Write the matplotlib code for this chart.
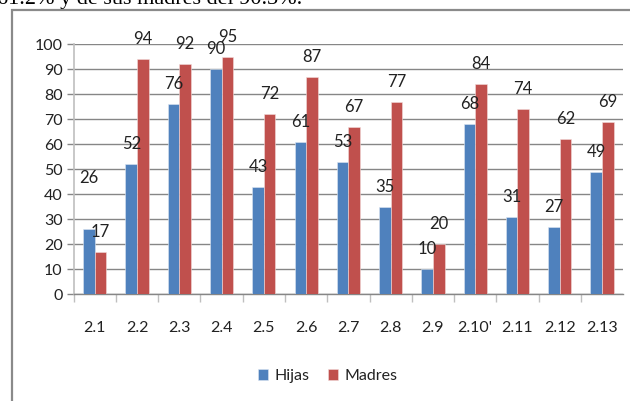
import numpy as np
import matplotlib
matplotlib.use("Agg")
import matplotlib.pyplot as plt
from matplotlib.patches import Rectangle

categorias = ["2.1", "2.2", "2.3", "2.4", "2.5", "2.6", "2.7", "2.8", "2.9", "2.10'", "2.11", "2.12", "2.13"]
hijas = [26, 52, 76, 90, 43, 61, 53, 35, 10, 68, 31, 27, 49]
madres = [17, 94, 92, 95, 72, 87, 67, 77, 20, 84, 74, 62, 69]
series = ["Hijas", "Madres"]

azul = "#4F81BD"
rojo = "#C0504D"
plt.rcParams["font.family"] = ["Lato", "DejaVu Sans"]

fig = plt.figure(figsize=(6.3, 4.01), dpi=100)
ax = fig.add_axes([0.117, 0.266, 0.872, 0.6235])

x = np.arange(len(categorias))
w = 0.275
b1 = ax.bar(x - w / 2, hijas, w, color=azul, edgecolor="#dce6f2", linewidth=0.4, label=series[0], zorder=3)
b2 = ax.bar(x + w / 2, madres, w, color=rojo, edgecolor="#f2dcdb", linewidth=0.4, label=series[1], zorder=3)

# etiquetas de datos
for i, (xi, v) in enumerate(zip(x, hijas)):
    off = 36.7 if i == 0 else 14.4
    ax.annotate(str(v), (xi - w / 2, v), xytext=(0, off), textcoords="offset points",
                ha="center", va="center", fontsize=12, color="#222222", annotation_clip=False)
for xi, v in zip(x, madres):
    ax.annotate(str(v), (xi + w / 2, v), xytext=(0, 14.4), textcoords="offset points",
                ha="center", va="center", fontsize=12, color="#222222", annotation_clip=False)

ax.set_xlim(-0.5, len(categorias) - 0.5)
ax.set_ylim(0, 100)
ax.set_yticks(range(0, 101, 10))
ax.yaxis.grid(True, color="#868686", linewidth=1.0, zorder=0)
ax.set_axisbelow(True)

ax.set_xticks(x)
ax.set_xticklabels(categorias)
ax.set_xticks(np.arange(-0.5, len(categorias) - 1, 1.0), minor=True)
ax.tick_params(axis="x", which="major", length=0, pad=19, labelsize=11.5, labelcolor="#222222")
ax.tick_params(axis="x", which="minor", length=6, width=1, color="#BFBFBF", direction="out")
ax.tick_params(axis="y", length=5, width=1, color="#868686", labelsize=11.5, labelcolor="#222222", pad=3)

for s in ["top", "right"]:
    ax.spines[s].set_visible(False)
ax.spines["left"].set_color("#BFBFBF")
ax.spines["left"].set_linewidth(1.2)
ax.spines["bottom"].set_color("#868686")
ax.spines["bottom"].set_linewidth(1.0)

leg = fig.legend(handles=[b1, b2], labels=series, loc="center", bbox_to_anchor=(0.52, 0.062),
                 ncol=2, frameon=False, fontsize=11.5, handlelength=0.6, handleheight=0.6,
                 handletextpad=0.4, columnspacing=1.2)
for t in leg.get_texts():
    t.set_color("#222222")

# texto del documento cortado arriba
fig.text(-0.004, 0.99, "61.2% y de sus madres del 90.3%.", family="Liberation Serif",
         fontsize=16, va="baseline", ha="left", color="black")

# marco del grafico
fig.patches.append(Rectangle((12 / 630, -0.05), 1.0, 1.05 - 9.5 / 401, transform=fig.transFigure,
                             fill=False, edgecolor="#8a8a8a", linewidth=1.6))

fig.savefig("out.png", dpi=100)
